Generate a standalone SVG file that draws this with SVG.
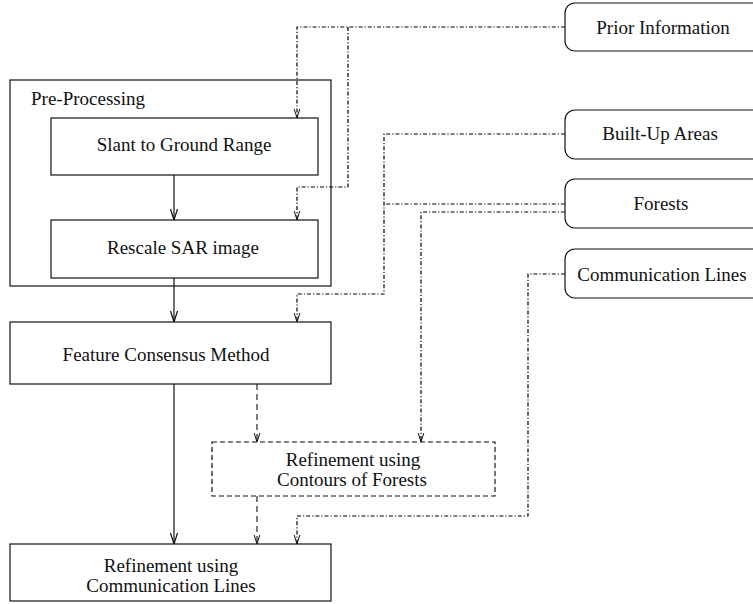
<svg xmlns="http://www.w3.org/2000/svg" width="753" height="604" viewBox="0 0 753 604">
<style>
  .box { fill: #fff; stroke: #111; stroke-width: 1.2; }
  .dbox { fill: #fff; stroke: #111; stroke-width: 1.2; stroke-dasharray: 5 3; }
  .rbox { fill: #fff; stroke: #111; stroke-width: 1.2; }
  text { font-family: "Liberation Serif", "Times New Roman", serif; font-size: 19px; fill: #111; }
  .c { text-anchor: middle; }
  .solid { fill: none; stroke: #111; stroke-width: 1.2; marker-end: url(#ah); }
  .dash { fill: none; stroke: #111; stroke-width: 1.1; stroke-dasharray: 6 4; marker-end: url(#ahs); }
  .dd { fill: none; stroke: #000; stroke-width: 1.2; stroke-dasharray: 4 2 1.2 2; }
  .dda { fill: none; stroke: #000; stroke-width: 1.2; stroke-dasharray: 4 2 1.2 2; marker-end: url(#ahs); }
</style>
<defs>
  <marker id="ah" markerUnits="userSpaceOnUse" markerWidth="14" markerHeight="14" viewBox="-12 -6 14 12" refX="0" refY="0" orient="auto">
    <path d="M-11,-3.5 L0,0 L-11,3.5" fill="none" stroke="#111" stroke-width="1.2" stroke-dasharray="none"/>
  </marker>
  <marker id="ahs" markerUnits="userSpaceOnUse" markerWidth="12" markerHeight="12" viewBox="-10 -5 12 10" refX="0" refY="0" orient="auto">
    <path d="M-9,-2.8 L0,0 L-9,2.8" fill="none" stroke="#111" stroke-width="1" stroke-dasharray="none"/>
  </marker>
</defs>

<g id="connectors">
  <path class="solid" d="M174,175 L174,220"/>
  <path class="solid" d="M174,278 L174,322"/>
  <path class="solid" d="M174,384 L174,544"/>
  <path class="dash" d="M257,384 L257,442"/>
  <path class="dash" d="M257,496 L257,544"/>
  <path class="dda" d="M565,27 L297,27 L297,118"/>
  <path class="dda" d="M348,27 L348,187 L297,187 L297,220"/>
  <path class="dda" d="M565,134 L384,134 L384,294 L297,294 L297,322"/>
  <path class="dd" d="M565,204 L384,204"/>
  <path class="dda" d="M565,212 L421,212 L421,442"/>
  <path class="dda" d="M565,274 L528,274 L528,516 L297,516 L297,544"/>
</g>

<g id="preprocessing">
  <rect class="box" x="10" y="80" width="321" height="206" style="fill:none"/>
  <text x="31" y="105">Pre-Processing</text>
</g>
<g id="slant">
  <rect class="box" x="51" y="118" width="267" height="57"/>
  <text class="c" x="184" y="151">Slant to Ground Range</text>
</g>
<g id="rescale">
  <rect class="box" x="51" y="220" width="267" height="58"/>
  <text class="c" x="183" y="254">Rescale SAR image</text>
</g>
<g id="feature">
  <rect class="box" x="10" y="322" width="321" height="62"/>
  <text class="c" x="166" y="361">Feature Consensus Method</text>
</g>
<g id="contours">
  <rect class="dbox" x="212" y="442" width="283" height="54"/>
  <text class="c" x="353" y="466">Refinement using</text>
  <text class="c" x="352" y="486">Contours of Forests</text>
</g>
<g id="refcomm">
  <rect class="box" x="10" y="544" width="321" height="57"/>
  <text class="c" x="171" y="572">Refinement using</text>
  <text class="c" x="171" y="592">Communication Lines</text>
</g>
<g id="prior">
  <rect class="rbox" x="565" y="3" width="200" height="48" rx="10"/>
  <text class="c" x="663" y="34">Prior Information</text>
</g>
<g id="builtup">
  <rect class="rbox" x="565" y="110" width="200" height="49" rx="10"/>
  <text class="c" x="660" y="140">Built-Up Areas</text>
</g>
<g id="forests">
  <rect class="rbox" x="565" y="179" width="200" height="49" rx="10"/>
  <text class="c" x="661" y="210">Forests</text>
</g>
<g id="commlines">
  <rect class="rbox" x="565" y="249" width="200" height="49" rx="10"/>
  <text class="c" x="662" y="281">Communication Lines</text>
</g>
</svg>
